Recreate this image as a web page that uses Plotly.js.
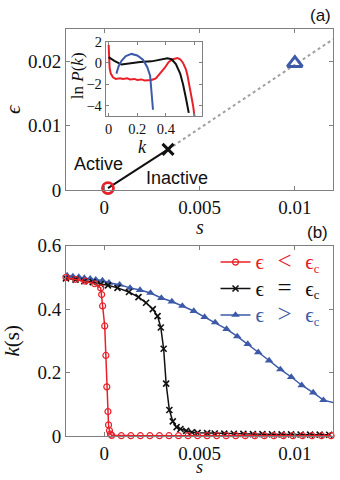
<!DOCTYPE html>
<html>
<head>
<meta charset="utf-8">
<script src="https://cdn.plot.ly/plotly-3.0.1.min.js"></script>
<style>html,body{margin:0;padding:0;background:#fff;}#chart{width:340px;height:480px;}</style>
</head>
<body>
<div id="chart"></div>
<script>
// ---- Panel (a): phase diagram ----
var phaseS   = [0.0002, 0.00335, 0.01];
var phaseEps = [0.0003, 0.0063, 0.0197];
var solidS   = [0.0002, 0.00335];
var solidEps = [0.0003, 0.0063];
var dashS    = [0.00335, 0.012];
var dashEps  = [0.0063, 0.0234];

// ---- Inset: ln P(k) ----
var kRedIn  = [0, 0.007, 0.015, 0.03, 0.05, 0.08, 0.1, 0.13, 0.15, 0.18, 0.2, 0.23, 0.25, 0.28, 0.3, 0.33, 0.36, 0.39, 0.42, 0.45, 0.48, 0.5, 0.52, 0.54, 0.55, 0.57, 0.59, 0.6];
var lnPRed  = [1.7, -0.5, -1.0, -1.35, -1.5, -1.45, -1.5, -1.45, -1.55, -1.5, -1.6, -1.55, -1.65, -1.6, -1.6, -1.45, -1.0, -0.5, 0.1, 0.35, 0.47, 0.35, 0.0, -0.6, -1.1, -2.5, -4.0, -5.0];
var kBlkIn  = [0, 0.04, 0.09, 0.15, 0.22, 0.3, 0.36, 0.41, 0.44, 0.47, 0.5, 0.52, 0.54, 0.56];
var lnPBlk  = [0.55, 0.2, -0.15, -0.05, 0.1, 0.15, 0.3, 0.45, 0.35, -0.1, -1.0, -2.0, -3.3, -4.7];
var kBluIn  = [0.054, 0.07, 0.09, 0.12, 0.16, 0.2, 0.24, 0.27, 0.29, 0.3, 0.31];
var lnPBlu  = [-1.0, -0.3, 0.2, 0.65, 0.85, 0.7, 0.3, -0.4, -1.2, -2.5, -4.4];

// ---- Panel (b): k(s) ----
var sRed = [-0.002, -0.0015, -0.001, -0.0005, -0.00018, -0.00013, -0.00008, 0.00003, 0.00009, 0.00014, 0.0002, 0.00023, 0.00028, 0.00033,
            0.0004, 0.0009, 0.0014, 0.0019, 0.0024, 0.0029, 0.0034, 0.0039, 0.0044, 0.0049, 0.0054, 0.0059, 0.0064, 0.0069, 0.0074, 0.0079, 0.0084, 0.0089, 0.0094, 0.0099, 0.0104, 0.0109, 0.0114, 0.0119];
var kRed = [0.500, 0.494, 0.488, 0.480, 0.467, 0.446, 0.410, 0.347, 0.254, 0.155, 0.077, 0.035, 0.017, 0.006,
            0.002, 0.001, 0.001, 0.001, 0.001, 0.001, 0.001, 0.001, 0.001, 0.001, 0.001, 0.001, 0.001, 0.001, 0.001, 0.001, 0.001, 0.001, 0.001, 0.001, 0.001, 0.001, 0.001, 0.001];
var sBlk = [-0.002, -0.0015, -0.00104, -0.0006, -0.00018, 0.0002, 0.0007, 0.0013, 0.0018, 0.0022, 0.00255, 0.0028, 0.00297, 0.00312, 0.00325, 0.00342,
            0.0036, 0.0038, 0.004, 0.0043, 0.0046, 0.0049, 0.0054, 0.0058, 0.0063, 0.0068, 0.0073, 0.0078, 0.0083, 0.0088, 0.0093, 0.0098, 0.0103, 0.0108, 0.0113, 0.0118];
var kBlk = [0.497, 0.493, 0.488, 0.485, 0.479, 0.475, 0.467, 0.454, 0.438, 0.420, 0.400, 0.378, 0.342, 0.275, 0.165, 0.082,
            0.046, 0.028, 0.022, 0.016, 0.012, 0.010, 0.009, 0.008, 0.0075, 0.007, 0.0065, 0.006, 0.0058, 0.0055, 0.005, 0.005, 0.0048, 0.0045, 0.0042, 0.004];
var sBlu = [-0.00194, -0.00164, -0.00133, -0.00104, -0.00073, -0.00044, -0.00009, 0.00025, 0.00081, 0.00136, 0.00188, 0.00243, 0.003, 0.00355, 0.0041, 0.0047,
            0.00527, 0.00582, 0.00642, 0.00698, 0.00753, 0.00808, 0.00865, 0.00924, 0.00981, 0.01036, 0.01096, 0.0115, 0.0121];
var kBlu = [0.506, 0.503, 0.501, 0.498, 0.496, 0.493, 0.490, 0.483, 0.477, 0.467, 0.460, 0.451, 0.435, 0.424, 0.410, 0.394,
            0.375, 0.358, 0.337, 0.314, 0.290, 0.264, 0.238, 0.210, 0.186, 0.160, 0.137, 0.113, 0.104];

var SP1 = '\u00A0\u00A0\u00A0';
var SP2 = '\u00A0\u00A0\u00A0';
var BIG = '<span style="font-size:25px">';
var EPS = '<span style="font-size:21px">ϵ</span>';
var legendNames = [
  '<span style="color:#e8202a">' + EPS + SP1 + BIG + '&lt;</span>' + SP2 + EPS + '<sub>c</sub></span>',
  '<span style="color:#111111">' + EPS + SP1 + BIG + '=</span>' + SP2 + EPS + '<sub>c</sub></span>',
  '<span style="color:#3c5aa8">' + EPS + SP1 + BIG + '&gt;</span>' + SP2 + EPS + '<sub>c</sub></span>'
];

var RED = '#e8202a', BLUE = '#3c5aa8', FRAME = '#808080';
var serif = '"Liberation Serif", "DejaVu Serif", serif';
var sans = '"Liberation Sans", Arial, sans-serif';

var traces = [
  {x: dashS, y: dashEps, mode: 'lines', line: {color: '#a0a0a0', width: 2, dash: 'dot'}, xaxis: 'x', yaxis: 'y', showlegend: false, hoverinfo: 'skip'},
  {x: solidS, y: solidEps, mode: 'lines', line: {color: '#111', width: 2}, xaxis: 'x', yaxis: 'y', showlegend: false},
  {x: [phaseS[0]], y: [phaseEps[0]], mode: 'markers', marker: {symbol: 'circle-open', size: 11, color: RED, line: {width: 2.8, color: RED}}, xaxis: 'x', yaxis: 'y', showlegend: false, cliponaxis: false},
  {x: [phaseS[1]], y: [phaseEps[1]], mode: 'markers', marker: {symbol: 'x-thin-open', size: 11, color: '#111', line: {width: 3, color: '#111'}}, xaxis: 'x', yaxis: 'y', showlegend: false, cliponaxis: false},
  {x: [phaseS[2]], y: [phaseEps[2]], mode: 'markers', marker: {symbol: 'triangle-up-open', size: 13, color: BLUE, line: {width: 3, color: BLUE}}, xaxis: 'x', yaxis: 'y', showlegend: false, cliponaxis: false},
  // inset
  {x: kRedIn, y: lnPRed, mode: 'lines', line: {color: RED, width: 2}, xaxis: 'x3', yaxis: 'y3', showlegend: false},
  {x: kBlkIn, y: lnPBlk, mode: 'lines', line: {color: '#111', width: 2}, xaxis: 'x3', yaxis: 'y3', showlegend: false},
  {x: kBluIn, y: lnPBlu, mode: 'lines', line: {color: BLUE, width: 2}, xaxis: 'x3', yaxis: 'y3', showlegend: false},
  // panel b
  {x: sBlu, y: kBlu, name: legendNames[2], mode: 'lines+markers', line: {color: BLUE, width: 1.5}, marker: {symbol: 'triangle-up', size: 7.5, color: BLUE}, xaxis: 'x2', yaxis: 'y2', legendrank: 3},
  {x: sBlk, y: kBlk, name: legendNames[1], mode: 'lines+markers', line: {color: '#111', width: 1.5}, marker: {symbol: 'x-thin-open', size: 6, color: '#111', line: {width: 1.6, color: '#111'}}, xaxis: 'x2', yaxis: 'y2', cliponaxis: false, legendrank: 2},
  {x: sRed, y: kRed, name: legendNames[0], mode: 'lines+markers', line: {color: RED, width: 1.5}, marker: {symbol: 'circle-open', size: 6, color: RED, line: {width: 1.2, color: RED}}, xaxis: 'x2', yaxis: 'y2', cliponaxis: false, legendrank: 1}
];

function ax(extra) {
  var base = {showline: true, mirror: 'ticks', linecolor: FRAME, linewidth: 1, ticks: 'inside', ticklen: 4, tickcolor: FRAME,
              showgrid: false, zeroline: false, tickfont: {family: serif, size: 19, color: '#111'}};
  for (var k in extra) base[k] = extra[k];
  return base;
}

var layout = {
  width: 340, height: 480,
  margin: {l: 66, r: 7, t: 29, b: 44},
  paper_bgcolor: '#fff', plot_bgcolor: '#fff',
  showlegend: true,
  legend: {x: 0.56, y: 0.472, xanchor: 'left', yanchor: 'top', bgcolor: 'rgba(0,0,0,0)', font: {family: serif, size: 18}, traceorder: 'normal', itemwidth: 30, tracegroupgap: 0},
  xaxis: ax({domain: [0, 1], anchor: 'y', range: [-0.002, 0.012], tickvals: [0, 0.005, 0.01], ticktext: ['0', '0.005', '0.01']}),
  yaxis: ax({domain: [0.6044, 1], anchor: 'x', range: [0, 0.025], tickvals: [0, 0.01, 0.02], ticktext: ['0', '0.01', '0.02'],
             title: {text: '<i>ϵ</i>', font: {family: serif, size: 22, color: '#111'}}}),
  xaxis2: ax({domain: [0, 1], anchor: 'y2', range: [-0.002, 0.012], tickvals: [0, 0.005, 0.01], ticktext: ['0', '0.005', '0.01']}),
  yaxis2: ax({domain: [0, 0.4676], anchor: 'x2', range: [0, 0.6], tickvals: [0, 0.2, 0.4, 0.6], ticktext: ['0', '0.2', '0.4', '0.6'],
             title: {text: '<i>k</i>(s)', font: {family: serif, size: 21, color: '#111'}}}),
  xaxis3: ax({domain: [0.149, 0.508], anchor: 'y3', range: [-0.02, 0.65], tickvals: [0, 0.2, 0.4, 0.6], ticktext: ['0', '0.2', '0.4', ' '], ticklen: 3,
             tickfont: {family: serif, size: 14.5, color: '#111'}}),
  yaxis3: ax({domain: [0.786, 0.9688], anchor: 'x3', range: [-5, 2], tickvals: [-4, -2, 0, 2], ticklen: 3,
             tickfont: {family: serif, size: 14.5, color: '#111'}}),
  annotations: [
    {xref: 'paper', yref: 'y domain', x: 1.0, y: 1.085, xanchor: 'right', yanchor: 'middle', text: '(a)', showarrow: false, font: {family: sans, size: 17, color: '#111'}},
    {xref: 'paper', yref: 'y2 domain', x: 0.99, y: 1.07, xanchor: 'right', yanchor: 'middle', text: '(b)', showarrow: false, font: {family: sans, size: 17, color: '#111'}},
    // main x-axis titles
    {xref: 'x domain', yref: 'y domain', x: 0.5, y: -0.23, xanchor: 'center', yanchor: 'middle', text: '<i>s</i>', showarrow: false, font: {family: serif, size: 20, color: '#111'}},
    {xref: 'x2 domain', yref: 'paper', x: 0.5, y: -0.1057, xanchor: 'center', yanchor: 'bottom', text: '<i>s</i>', showarrow: false, font: {family: serif, size: 18, color: '#111'}},
    {xref: 'x', yref: 'y', x: -0.0003, y: 0.004, xanchor: 'center', yanchor: 'middle', text: 'Active', showarrow: false, font: {family: sans, size: 18, color: '#111'}},
    {xref: 'x', yref: 'y', x: 0.0038, y: 0.0018, xanchor: 'center', yanchor: 'middle', text: 'Inactive', showarrow: false, font: {family: sans, size: 18, color: '#111'}},
    // inset axis titles
    {xref: 'x3', yref: 'paper', x: 0.24, y: 0.71, xanchor: 'center', yanchor: 'middle', text: '<i>k</i>', showarrow: false, font: {family: serif, size: 18, color: '#111'}},
    {xref: 'paper', yref: 'y3', x: 0.043, y: -1.2, xanchor: 'center', yanchor: 'middle', textangle: -90, text: 'ln <i>P</i>(<i>k</i>)', showarrow: false, font: {family: serif, size: 17, color: '#111'}}
  ]
};

Plotly.newPlot('chart', traces, layout, {staticPlot: true, displayModeBar: false});
</script>
</body>
</html>
